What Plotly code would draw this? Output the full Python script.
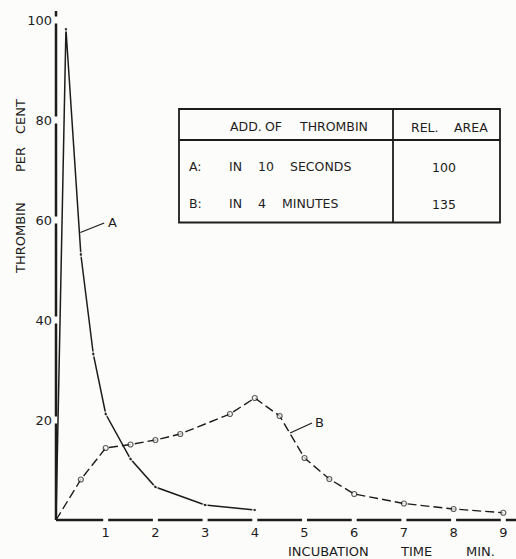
import plotly.graph_objects as go

# ---------------- data ----------------
time_a = [0, 0.2, 0.5, 0.75, 1.0, 1.5, 2.0, 3.0, 4.0]
thrombin_a = [0, 98.2, 53.1, 33.2, 21.2, 12.2, 6.6, 3.0, 2.0]

time_b = [0, 0.5, 1.0, 1.5, 2.0, 2.5, 3.5, 4.0, 4.5, 5.0, 5.5, 6.0, 7.0, 8.0, 9.0]
thrombin_b = [0, 8.1, 14.4, 15.1, 16.0, 17.2, 21.2, 24.4, 20.8, 12.4, 8.2, 5.2, 3.3, 2.2, 1.45]

x_ticks = [1, 2, 3, 4, 5, 6, 7, 8, 9]
y_ticks = [20, 40, 60, 80, 100]

table_header = ["ADD. OF THROMBIN", "REL. AREA"]
table_keys = ["A:", "B:"]
table_desc = ["IN 10 SECONDS", "IN 4 MINUTES"]
table_area = ["100", "135"]

x_title_words = ["INCUBATION", "TIME", "MIN."]
y_title_words = ["THROMBIN", "PER", "CENT"]

# ---------------- layout geometry ----------------
W, H = 516, 559
X0, PXX = 56.0, 49.7      # pixel of x=0, pixels per minute
Y0, PXY = 520.0, 5.0      # pixel of y=0, pixels per percent
ML, MT, MB, MR = 53, 11, 36, 0
xlo, xhi = (ML - X0) / PXX, (W - MR - X0) / PXX
ylo, yhi = (Y0 - (H - MB)) / PXY, (Y0 - MT) / PXY


def dx(px):
    return (px - X0) / PXX


def dy(py):
    return (Y0 - py) / PXY


INK = "#1c1c1c"
BG = "#fcfcfa"
FONT = "DejaVu Sans"

fig = go.Figure()

fig.add_trace(go.Scatter(
    x=time_a, y=thrombin_a, mode="lines+markers",
    line=dict(color=INK, width=1.5),
    marker=dict(size=[0] + [4] * (len(time_a) - 1), color=INK,
                line=dict(color=BG, width=1.5)),
    hoverinfo="skip", showlegend=False))

fig.add_trace(go.Scatter(
    x=time_b, y=thrombin_b, mode="lines+markers",
    line=dict(color=INK, width=1.4, dash="9px,4px"),
    marker=dict(size=[0] + [5] * (len(time_b) - 1), color=BG,
                line=dict(color=INK, width=1.2)),
    hoverinfo="skip", showlegend=False))

shapes = []
# x axis line with gaps at ticks
gx = 2.5 / PXX
edges = [0] + x_ticks + [xhi]
for i in range(len(edges) - 1):
    a = edges[i] + (gx if i > 0 else 0)
    b = edges[i + 1] - (gx if i + 1 < len(edges) - 1 else 0)
    shapes.append(dict(type="line", xref="x", yref="y", x0=a, x1=b, y0=0, y1=0,
                       line=dict(color=INK, width=2.5)))
# y axis line with gaps at ticks
gy = 3.5 / PXY
edges = [0] + y_ticks + [yhi]
for i in range(len(edges) - 1):
    a = edges[i] + (gy if i > 0 else 0)
    b = edges[i + 1] - (gy if i + 1 < len(edges) - 1 else 0)
    shapes.append(dict(type="line", xref="x", yref="y", x0=0, x1=0, y0=a, y1=b,
                       line=dict(color=INK, width=2.5)))

# leader lines for curve labels
shapes.append(dict(type="line", xref="x", yref="y", x0=0.49, y0=57.5, x1=0.97, y1=59.4,
                   line=dict(color=INK, width=1.3)))
shapes.append(dict(type="line", xref="x", yref="y", x0=4.71, y0=17.4, x1=5.15, y1=19.4,
                   line=dict(color=INK, width=1.3)))

# table frame
tl, tr, tt, tb = dx(179), dx(500), dy(109), dy(222.5)
hline, vline = dy(140), dx(393)
tline = dict(color=INK, width=1.8)
shapes.append(dict(type="rect", xref="x", yref="y", x0=tl, x1=tr, y0=tb, y1=tt, line=tline))
shapes.append(dict(type="line", xref="x", yref="y", x0=tl, x1=tr, y0=hline, y1=hline, line=tline))
shapes.append(dict(type="line", xref="x", yref="y", x0=vline, x1=vline, y0=tb, y1=tt, line=tline))

ann = []
f12 = dict(family=FONT, size=12.5, color=INK)


def words_at(text, lefts, ypx):
    for w, lx in zip(text.split(), lefts):
        ann.append(dict(x=dx(lx), y=dy(ypx), text=w, showarrow=False, font=f12,
                        xanchor="left", yanchor="middle"))


words_at(table_header[0], [228, 263, 297], 126)
words_at(table_header[1], [409, 452], 127)
for i, ypx in enumerate([166, 203]):
    words_at(table_keys[i], [187], ypx)
    words_at(table_desc[i], [227, 256, [288, 280][i]], ypx)
    ann.append(dict(x=dx(444), y=dy(ypx + 1), text=table_area[i], showarrow=False, font=f12,
                    xanchor="center", yanchor="middle"))

f13 = dict(family=FONT, size=13, color=INK)
ann.append(dict(x=1.0, y=59.6, text="A", showarrow=False, font=f13, xanchor="left", yanchor="middle"))
ann.append(dict(x=5.17, y=19.5, text="B", showarrow=False, font=f13, xanchor="left", yanchor="middle"))

# axis titles (word by word, spaced like the original)
for w, cx in zip(x_title_words, [328, 416, 480]):
    ann.append(dict(xref="paper", yref="paper", x=(cx - ML) / (W - ML - MR),
                    y=-(551 - (H - MB)) / (H - MT - MB), text=w, showarrow=False,
                    font=f13, xanchor="center", yanchor="middle"))
for w, cy in zip(y_title_words, [238, 160, 117]):
    ann.append(dict(xref="paper", yref="paper", x=-(ML - 20) / (W - ML - MR),
                    y=(H - MB - cy) / (H - MT - MB), text=w, showarrow=False,
                    font=f13, textangle=-90, xanchor="center", yanchor="middle"))

fig.update_layout(
    width=W, height=H, autosize=False,
    margin=dict(l=ML, r=MR, t=MT, b=MB, pad=0),
    paper_bgcolor=BG, plot_bgcolor=BG,
    shapes=shapes, annotations=ann,
    xaxis=dict(range=[xlo, xhi], tickvals=x_ticks, ticktext=[str(t) for t in x_ticks],
               showgrid=False, zeroline=False, showline=False, ticks="",
               tickfont=dict(family=FONT, size=13, color=INK)),
    yaxis=dict(range=[ylo, yhi], tickvals=y_ticks, ticktext=[str(t) for t in y_ticks],
               showgrid=False, zeroline=False, showline=False, ticks="",
               tickfont=dict(family=FONT, size=13, color=INK)),
)

fig.write_html(
    "out.html",
    config={"displayModeBar": False},
    post_script="document.body.style.margin='0';document.body.style.overflow='hidden';"
                "document.body.style.background='" + BG + "';",
)
